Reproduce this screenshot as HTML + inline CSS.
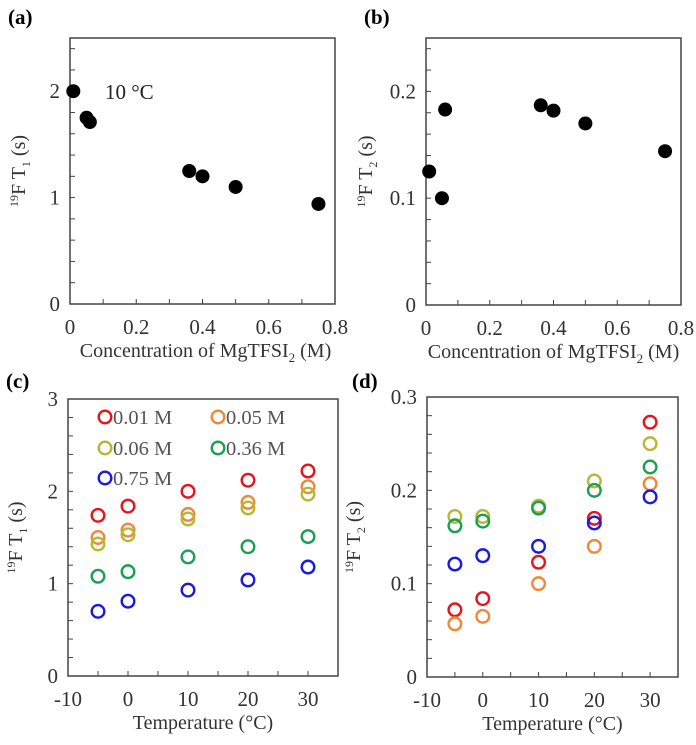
<!DOCTYPE html>
<html><head><meta charset="utf-8"><style>
html,body{margin:0;padding:0;background:#fff}
svg{display:block;font-family:"Liberation Serif",serif}
</style></head><body>
<svg id="fig" width="696" height="745" viewBox="0 0 696 745" xmlns="http://www.w3.org/2000/svg"></svg>
<script>
const concA = [0.01,0.05,0.06,0.36,0.40,0.50,0.75];
const t1A = [2.0,1.75,1.71,1.25,1.2,1.1,0.94];
const concB = [0.01,0.05,0.06,0.36,0.40,0.50,0.75];
const t2B = [0.125,0.10,0.183,0.187,0.182,0.170,0.144];
const temps = [-5,0,10,20,30];
const seriesNames = ["0.01 M","0.05 M","0.06 M","0.36 M","0.75 M"];
const t1_001 = [1.74,1.84,2.0,2.12,2.22];
const t1_005 = [1.50,1.58,1.75,1.88,2.05];
const t1_006 = [1.43,1.53,1.70,1.82,1.97];
const t1_036 = [1.08,1.13,1.29,1.40,1.51];
const t1_075 = [0.70,0.81,0.93,1.04,1.18];
const t2_001 = [0.072,0.084,0.123,0.170,0.273];
const t2_005 = [0.057,0.065,0.100,0.140,0.207];
const t2_006 = [0.172,0.172,0.183,0.210,0.250];
const t2_036 = [0.162,0.167,0.181,0.200,0.225];
const t2_075 = [0.121,0.130,0.140,0.165,0.193];
const xTicksConc = ["0","0.2","0.4","0.6","0.8"];
const xTicksTemp = ["-10","0","10","20","30"];

const colors = ["#e8141c","#f0883a","#b8b832","#1aa050","#1a1ae0"];
const NS="http://www.w3.org/2000/svg";
const svg=document.getElementById('fig');
function mk(tag,attrs,parent,text){const e=document.createElementNS(NS,tag);for(const k in attrs)e.setAttribute(k,attrs[k]);if(text!==undefined)e.textContent=text;(parent||svg).appendChild(e);return e;}

function panel(o){
  const g=mk('g',{});
  
  
  const sx=v=>o.L+(v-o.x0)/(o.x1-o.x0)*(o.R-o.L);
  const sy=v=>o.B-(v-o.y0)/(o.y1-o.y0)*(o.B-o.T);
  const lab=mk('text',{x:o.lx,y:o.ly,'font-size':21,'font-weight':'bold'},g,o.letter);
  
  
  const box=mk('rect',{x:o.L,y:o.T,width:o.R-o.L,height:o.B-o.T,fill:'none',stroke:'#444','stroke-width':1.5},g);
  
  
  for(let v=o.y0;v<=o.y1+1e-9;v+=o.ym){const y=sy(v);mk('line',{x1:o.L,x2:o.L+5,y1:y,y2:y,stroke:'#444','stroke-width':1},g);}
  for(let v=o.x0;v<=o.x1+1e-9;v+=o.xm){const x=sx(v);mk('line',{x1:x,x2:x,y1:o.B,y2:o.B-5,stroke:'#444','stroke-width':1},g);}
  o.yt.forEach(v=>{const t=mk('text',{x:o.L-10,y:sy(v)+7,'font-size':21,'text-anchor':'end',fill:'#333'},g,o.yf(v));});
  o.xtl.forEach((s,i)=>{const v=o.xtv[i];const t=mk('text',{x:sx(v),y:o.B+30,'font-size':21,'text-anchor':'middle',fill:'#333'},g,s);});
  const xt=mk('text',{x:(o.L+o.R)/2+o.xtdx,y:o.B+53,'font-size':20,'text-anchor':'middle',fill:'#333'},g);
  xt.innerHTML=o.xtitle;
  
  
  const cy=(o.T+o.B)/2;
  const yt=mk('text',{x:o.ytx,y:cy,'font-size':20,'text-anchor':'middle',fill:'#333',transform:`rotate(-90 ${o.ytx} ${cy})`},g);
  yt.innerHTML=o.ytitle;
  
  
  return {g,sx,sy};
}
const concTitle='Concentration of MgTFSI<tspan font-size="13" dy="5">2</tspan><tspan dy="-5"> (M)</tspan>';
const f1=v=>String(v), f2=v=>v===0?'0':v.toFixed(1);

// (a)
let p=panel({name:'panel-a',letter:'(a)',lx:8,ly:24,L:70,R:335,T:38,B:304,x0:0,x1:0.8,y0:0,y1:2.5,xm:0.1,ym:0.2,
 yt:[0,1,2],yf:f1,xtl:xTicksConc,xtv:[0,0.2,0.4,0.6,0.8],xtitle:concTitle,xtdx:3,ytx:25,
 ytitle:'<tspan font-size="12" dy="-7">19</tspan><tspan dy="7">F T</tspan><tspan font-size="12" dy="5">1</tspan><tspan dy="-5"> (s)</tspan>'});
concA.forEach((c,i)=>{const d=mk('circle',{cx:p.sx(c),cy:p.sy(t1A[i]),r:7,fill:'#000'},p.g);});
const ann=mk('text',{x:105,y:99,'font-size':21,fill:'#222'},p.g,'10 °C');



// (b)
p=panel({name:'panel-b',letter:'(b)',lx:364,ly:24,L:426,R:681,T:38,B:305,x0:0,x1:0.8,y0:0,y1:0.25,xm:0.1,ym:0.02,
 yt:[0,0.1,0.2],yf:f2,xtl:xTicksConc,xtv:[0,0.2,0.4,0.6,0.8],xtitle:concTitle,xtdx:0,ytx:372,
 ytitle:'<tspan font-size="12" dy="-7">19</tspan><tspan dy="7">F T</tspan><tspan font-size="12" dy="5">2</tspan><tspan dy="-5"> (s)</tspan>'});
concB.forEach((c,i)=>{const d=mk('circle',{cx:p.sx(c),cy:p.sy(t2B[i]),r:7,fill:'#000'},p.g);});

// (c)
p=panel({name:'panel-c',letter:'(c)',lx:6,ly:388,L:68,R:338,T:399,B:676,x0:-10,x1:35,y0:0,y1:3,xm:5,ym:0.2,
 yt:[0,1,2,3],yf:f1,xtl:xTicksTemp,xtv:[-10,0,10,20,30],xtitle:'Temperature (°C)',xtdx:0,ytx:22,
 ytitle:'<tspan font-size="12" dy="-7">19</tspan><tspan dy="7">F T</tspan><tspan font-size="12" dy="5">1</tspan><tspan dy="-5"> (s)</tspan>'});
[t1_001,t1_005,t1_006,t1_036,t1_075].forEach((s,k)=>s.forEach((v,i)=>{const c=mk('circle',{cx:p.sx(temps[i]),cy:p.sy(v),r:6.3,fill:'none',stroke:colors[k],'stroke-width':2.4},p.g); }));
const legPos=[[105,417],[218,417],[105,448],[218,448],[105,478]];
seriesNames.forEach((n,k)=>{const lg=mk('g',{},p.g);
 mk('circle',{cx:legPos[k][0],cy:legPos[k][1],r:6.3,fill:'none',stroke:colors[k],'stroke-width':2.4},lg);
 mk('text',{x:legPos[k][0]+8,y:legPos[k][1]+7,'font-size':20.5,fill:'#555'},lg,n);});

// (d)
p=panel({name:'panel-d',letter:'(d)',lx:352,ly:388,L:427,R:678,T:397,B:677,x0:-10,x1:35,y0:0,y1:0.3,xm:5,ym:0.02,
 yt:[0,0.1,0.2,0.3],yf:f2,xtl:xTicksTemp,xtv:[-10,0,10,20,30],xtitle:'Temperature (°C)',xtdx:0,ytx:360,
 ytitle:'<tspan font-size="12" dy="-7">19</tspan><tspan dy="7">F T</tspan><tspan font-size="12" dy="5">2</tspan><tspan dy="-5"> (s)</tspan>'});
[t2_001,t2_005,t2_006,t2_036,t2_075].forEach((s,k)=>s.forEach((v,i)=>{const c=mk('circle',{cx:p.sx(temps[i]),cy:p.sy(v),r:6.3,fill:'none',stroke:colors[k],'stroke-width':2.4},p.g);}));
</script>
</body></html>
